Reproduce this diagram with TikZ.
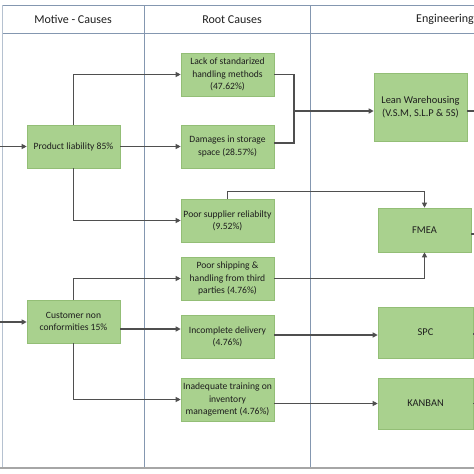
\documentclass[tikz,border=0pt]{standalone}
\usepackage{fontspec}
\setmainfont{Carlito}
\usetikzlibrary{arrows.meta,calc}
\definecolor{boxfill}{HTML}{A9D18E}
\definecolor{boxline}{HTML}{93BE76}
\definecolor{conn}{HTML}{4F4F4F}
\definecolor{gridb}{HTML}{8497B0}
\definecolor{gridg}{HTML}{A6A6A6}
\definecolor{txt}{HTML}{1E1E1E}
\tikzset{
  box/.style={draw=boxline, line width=0.6pt, fill=boxfill, text=txt, align=center,
    inner sep=0pt, minimum width=93pt, minimum height=43pt,
    font=\fontsize{9.6}{12.2}\selectfont},
  tool/.style={box, font=\fontsize{10.4}{12.8}\selectfont},
  conline/.style={draw=conn, line width=1.1pt},
  arr/.style={conline, -{Triangle[length=5pt,width=5pt]}},
  gridline/.style={draw=gridb, line width=0.8pt},
  head/.style={text=txt, font=\fontsize{12}{14}\selectfont, inner sep=0pt}
}
\begin{document}
\begin{tikzpicture}[x=1pt,y=-1pt]
\useasboundingbox (0,0) rectangle (474,474);
% grid
\draw[gridline] (2,5) -- (474,5);
\draw[gridline] (2,33) -- (474,33);
\draw[gridline, draw=gridb!60] (2,5) -- (2,468);
\draw[gridline] (144,5) -- (144,468);
\draw[gridline] (310,5) -- (310,468);
\draw[draw=gridg, line width=1.4pt] (0,468) -- (474,468);
% headers
\node[head] (h1) at (73,19.5) {Motive - Causes};
\node[head] (h2) at (232,19.5) {Root Causes};
\node[head, anchor=west] (h3) at (416,19.5) {Engineering};
% motive nodes
\node[box] (pl) at (73.5,146.5) {Product liability 85\%};
\node[box] (cn) at (73.5,321.5) {Customer non\\conformities 15\%};
% root cause nodes
\node[box] (lack) at (227.5,74.5) {Lack of standarized\\handling methods\\(47.62\%)};
\node[box] (dam) at (227.5,146.5) {Damages in storage\\space (28.57\%)};
\node[box] (sup) at (227.5,220.5) {Poor supplier reliabilty\\(9.52\%)};
\node[box] (ship) at (227.5,278.5) {Poor shipping \&\\handling from third\\parties (4.76\%)};
\node[box] (inc) at (227.5,336.5) {Incomplete delivery\\(4.76\%)};
\node[box] (inad) at (227.5,399.5) {Inadequate training on\\inventory\\management (4.76\%)};
% tools
\node[tool, minimum height=68pt] (lean) at (420.5,107) {Lean Warehousing\\(V.S.M, S.L.P \& 5S)};
\node[tool, minimum height=44pt] (fmea) at (424.5,230) {FMEA};
\node[tool, minimum width=95pt, minimum height=51pt] (spc) at (425.5,332.5) {SPC};
\node[tool, minimum width=95pt, minimum height=51pt] (kan) at (425.5,403.5) {KANBAN};
% coordinates
\coordinate (in1) at (0,146.5);
\coordinate (in2) at (0,322);
\coordinate (j) at (294,111);
\coordinate (o1) at (474,111);
\coordinate (o2) at (474,234);
\coordinate (o3) at (474,334);
\coordinate (o4) at (474,403.5);
% connectors
\draw[arr] (in1) -- (pl.west);
\draw[arr] (in2) -- (cn.west |- in2);
\draw[arr] (pl.north) |- (lack.west);
\draw[arr] (pl.east) -- (dam.west);
\draw[arr] (pl.south) |- (sup.west);
\draw[arr] (cn.north) |- (ship.west);
\draw[arr] ([yshift=-7.5pt]cn.east) -- ([yshift=-7.5pt]cn.east -| inc.west);
\draw[arr] (cn.south) |- (inad.west);
\draw[conline] (lack.east) -| (j) |- ([yshift=3.5pt]dam.east);
\draw[arr] (j) -- (j -| lean.west);
\draw[conline] (lean.east |- o1) -- (o1);
\draw[arr] (sup.north) -- ++(0,-7) -| (fmea.north);
\draw[arr] (ship.east) -| (fmea.south);
\draw[conline] (fmea.east |- o2) -- (o2);
\draw[arr] ([yshift=1.5pt]inc.east) -- ([yshift=1.5pt]inc.east -| spc.west);
\draw[conline] (spc.east |- o3) -- (o3);
\draw[arr] (inad.east |- kan.west) -- (kan.west);
\draw[conline] (kan.east |- o4) -- (o4);
\end{tikzpicture}
\end{document}
